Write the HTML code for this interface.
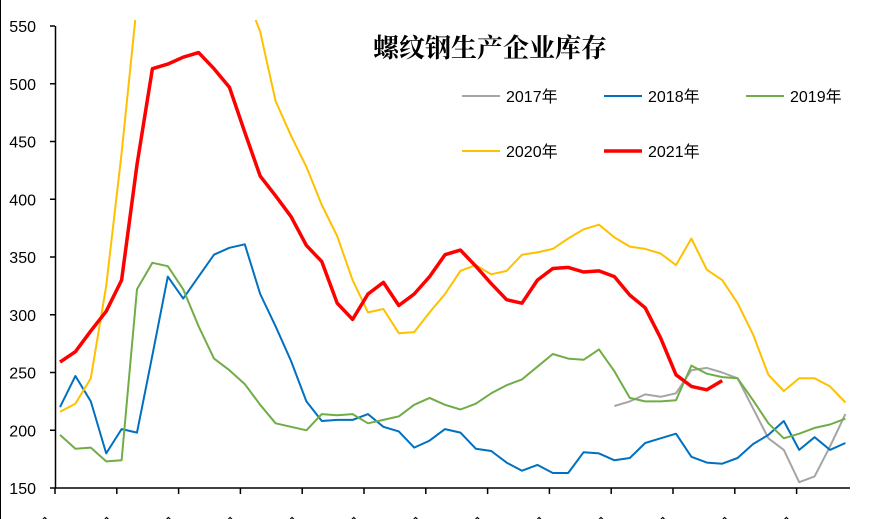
<!DOCTYPE html>
<html><head><meta charset="utf-8"><style>
body{margin:0;background:#fff;}
svg{display:block;font-family:"Liberation Sans","Noto Sans CJK SC",sans-serif;}
</style></head><body>
<svg id="chart" width="880" height="519">
<line x1="0.5" y1="0" x2="0.5" y2="519" stroke="#000" stroke-width="1"/>
<text x="490" y="57" text-anchor="middle" font-size="26" font-weight="bold" font-family="'Noto Serif CJK SC','Noto Sans CJK SC',serif">螺纹钢生产企业库存</text>
<defs><clipPath id="plotclip"><rect x="55" y="20" width="800" height="468"/></clipPath></defs>
<g id="yaxis"></g>
<g id="xaxis"></g>
<g id="series" clip-path="url(#plotclip)"></g>
<g id="legend"></g>
</svg>
<script>
const yTicks=[150,200,250,300,350,400,450,500,550];
const monthLabels=["1月","2月","3月","4月","5月","6月","7月","8月","9月","10月","11月","12月","1月"];
const seriesNames=["2017年","2018年","2019年","2020年","2021年"];
const seriesColors=["#a5a5a5","#0070c0","#70ad47","#ffc000","#ff0000"];
const seriesStart=[36,0,0,0,0];
const s2017=[221,225,231,229,232,252,254,250,245,219,193,183,155,160,186,214];
const s2018=[220,247,225,180,201,198,265,333,314,333,352,358,361,318,290,260,225,208,209,209,214,203,199,185,191,201,198,184,182,172,165,170,163,163,181,180,174,176,189,193,197,177,172,171,176,188,196,208,183,194,183,189];
const s2019=[196,184,185,173,174,322,345,342,322,290,262,252,240,222,206,203,200,214,213,214,206,209,212,222,228,222,218,223,232,239,244,255,266,262,261,270,251,228,225,225,226,256,249,246,245,226,206,193,197,202,205,210];
const s2020=[216,223,245,325,440,570,620,650,660,650,630,610,580,545,485,455,428,395,368,330,302,305,284,285,302,318,338,343,335,338,352,354,357,366,374,378,367,359,357,353,343,366,339,330,310,283,248,234,245,245,238,224];
const s2021=[259,268,286,303,330,430,513,517,523,527,513,497,458,420,403,385,360,346,310,296,318,328,308,318,333,352,356,342,327,313,310,330,340,341,337,338,333,317,306,280,248,238,235,243];
const allSeries=[s2017,s2018,s2019,s2020,s2021];
const NS="http://www.w3.org/2000/svg";
const yScale=v=>488-(v-150)*(462/400);
const xScale=i=>60+i*15.4;
const tickX=k=>55+k*61.8;
function mk(tag,attrs,parent){const e=document.createElementNS(NS,tag);for(const k in attrs)e.setAttribute(k,attrs[k]);parent.appendChild(e);return e;}
const ya=document.getElementById('yaxis'),xa=document.getElementById('xaxis'),sg=document.getElementById('series'),lg=document.getElementById('legend');
let l=mk('line',{x1:55.5,y1:26,x2:55.5,y2:488,stroke:'#000','stroke-width':1.5},ya);


yTicks.forEach(v=>{
  const y=yScale(v);
  const t=mk('line',{x1:50,y1:y,x2:55,y2:y,stroke:'#000','stroke-width':1.5},ya);
  
  
  const tx=mk('text',{x:36,y:y+6,'text-anchor':'end','font-size':16},ya);
  tx.textContent=v;
  
  
});
l=mk('line',{x1:55,y1:488,x2:850,y2:488,stroke:'#000','stroke-width':1.5},xa);


monthLabels.forEach((m,k)=>{
  const x=tickX(k);
  const t=mk('line',{x1:x,y1:488,x2:x,y2:494,stroke:'#000','stroke-width':1.5},xa);
  
  
  const tx=mk('text',{x:x,y:523,'text-anchor':'end','font-size':15,transform:`rotate(-45 ${x} 523)`},xa);
  tx.textContent=m;
  
  
});
allSeries.forEach((data,si)=>{
  const pts=data.map((v,i)=>xScale(seriesStart[si]+i).toFixed(1)+','+yScale(v).toFixed(1)).join(' ');
  const p=mk('polyline',{points:pts,fill:'none',stroke:seriesColors[si],'stroke-width':si===4?3.5:2,'stroke-linejoin':'round'},sg);
  
  
});
const legPos=[[462,96],[604,96],[746,96],[462,151],[604,151]];
seriesNames.forEach((n,si)=>{
  const [x,y]=legPos[si];
  const ln=mk('line',{x1:x,y1:y,x2:x+38,y2:y,stroke:seriesColors[si],'stroke-width':si===4?3.5:2},lg);
  
  
  const tx=mk('text',{x:x+44,y:y+6,'font-size':16},lg);
  tx.textContent=n;
  
  
});
</script>
</body></html>
